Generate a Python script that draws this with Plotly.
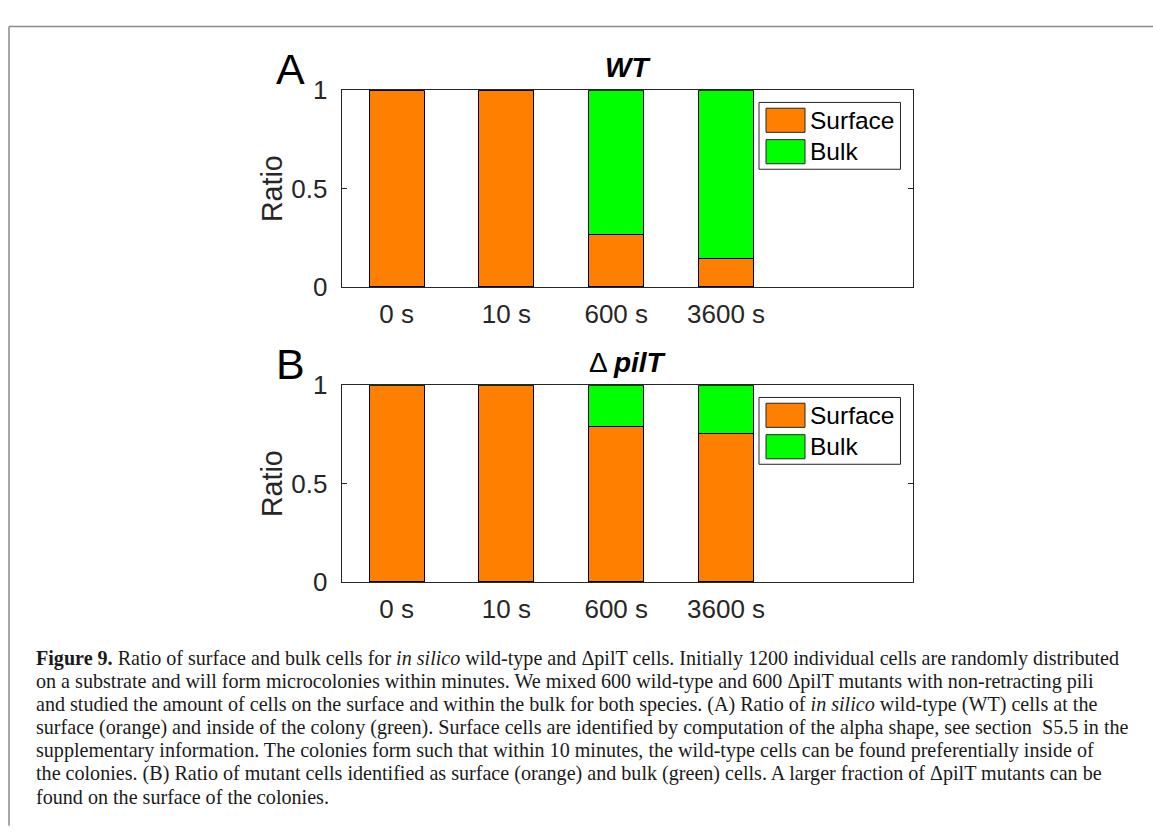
import plotly.graph_objects as go

# ---------------- data ----------------
categories = ["0 s", "10 s", "600 s", "3600 s"]
wt_surface = [1.0, 1.0, 0.265, 0.144]
wt_bulk = [0.0, 0.0, 0.735, 0.856]
pilt_surface = [0.997, 0.997, 0.788, 0.753]
pilt_bulk = [0.003, 0.003, 0.212, 0.247]
series_names = ["Surface", "Bulk"]
yticks = [0, 0.5, 1]
yticktext = ["0", "0.5", "1"]

caption_lines = [
    "<b>Figure 9.</b> Ratio of surface and bulk cells for <i>in silico</i> wild-type and \u0394pilT cells. Initially 1200 individual cells are randomly distributed",
    "on a substrate and will form microcolonies within minutes. We mixed 600 wild-type and 600 \u0394pilT mutants with non-retracting pili",
    "and studied the amount of cells on the surface and within the bulk for both species. (A) Ratio of <i>in silico</i> wild-type (WT) cells at the",
    "surface (orange) and inside of the colony (green). Surface cells are identified by computation of the alpha shape, see section  S5.5 in the",
    "supplementary information. The colonies form such that within 10 minutes, the wild-type cells can be found preferentially inside of",
    "the colonies. (B) Ratio of mutant cells identified as surface (orange) and bulk (green) cells. A larger fraction of \u0394pilT mutants can be",
    "found on the surface of the colonies.",
]

# ---------------- styling ----------------
W, H = 1153, 836
ORANGE = "#FF8000"
GREEN = "#00FF00"
AX = "#262626"
SANS = "Liberation Sans, Arial, Helvetica, sans-serif"
SERIF = "Liberation Serif, Times New Roman, serif"


def X(px):
    return px / W


def Y(py):
    return 1 - py / H


fig = go.Figure()

panels = [
    dict(x="x", y="y", surf=wt_surface, bulk=wt_bulk),
    dict(x="x2", y="y2", surf=pilt_surface, bulk=pilt_bulk),
]

for p in panels:
    for name, vals, col in zip(series_names, [p["surf"], p["bulk"]], [ORANGE, GREEN]):
        fig.add_trace(go.Bar(
            x=categories, y=vals, name=name, xaxis=p["x"], yaxis=p["y"],
            marker=dict(color=col, line=dict(color="black", width=1)),
            width=0.5, showlegend=False, hoverinfo="skip",
        ))

xl, xr = 341.7, 912.7
common_x = dict(
    type="category", range=[-0.5, 4.7], showline=True, linecolor=AX, linewidth=1,
    mirror=True, ticks="", showgrid=False, zeroline=False,
    tickfont=dict(family=SANS, size=26, color=AX), ticklabelstandoff=4,
    fixedrange=True,
)
common_y = dict(
    range=[0, 1], tickvals=yticks, ticktext=yticktext, showline=True, linecolor=AX,
    linewidth=1, mirror="allticks", ticks="inside", ticklen=5, tickcolor=AX,
    showgrid=False, zeroline=False, tickfont=dict(family=SANS, size=26, color=AX),
    ticklabelstandoff=8, fixedrange=True,
)

fig.update_layout(
    width=W, height=H, autosize=False,
    margin=dict(l=0, r=0, t=0, b=0),
    paper_bgcolor="white", plot_bgcolor="white",
    barmode="stack", bargap=0.5,
    xaxis=dict(domain=[X(xl), X(xr)], anchor="y", **common_x),
    yaxis=dict(domain=[Y(282), Y(78)], anchor="x", **common_y),
    xaxis2=dict(domain=[X(xl), X(xr)], anchor="y2", **common_x),
    yaxis2=dict(domain=[Y(588), Y(384)], anchor="x2", **common_y),
)

shapes = []
annos = []

# outer frame (left and top gray rules)
shapes.append(dict(type="line", xref="paper", yref="paper", x0=X(9), x1=X(9), y0=Y(12), y1=Y(H + 5),
                   line=dict(color="#8a8a8a", width=1.5)))
shapes.append(dict(type="line", xref="paper", yref="paper", x0=X(9), x1=X(W + 5), y0=Y(12), y1=Y(12),
                   line=dict(color="#8a8a8a", width=1.5)))

# panel letters, titles, y labels, legends
panel_meta = [
    dict(letter="A", title="<b><i>WT</i></b>", off=0, ly=180),
    dict(letter="B", title="\u0394 <b><i>pilT</i></b>", off=306, ly=486),
]
for m in panel_meta:
    o = m["off"]
    annos.append(dict(text=m["letter"], x=X(290), y=Y(56 + o), xref="paper", yref="paper",
                      showarrow=False, xanchor="center", yanchor="middle",
                      font=dict(family=SANS, size=43, color="black")))
    annos.append(dict(text=m["title"], x=X(628), y=Y(54 + o), xref="paper", yref="paper",
                      showarrow=False, xanchor="center", yanchor="middle",
                      font=dict(family=SANS, size=28, color="black")))
    annos.append(dict(text="Ratio", x=X(271.5), y=Y(m["ly"]), xref="paper", yref="paper",
                      showarrow=False, xanchor="center", yanchor="middle", textangle=-90,
                      font=dict(family=SANS, size=28.6, color=AX)))
    # legend box
    shapes.append(dict(type="rect", xref="paper", yref="paper",
                       x0=X(759), x1=X(900.5), y0=Y(90.7 + o), y1=Y(160 + o),
                       line=dict(color="#262626", width=1), fillcolor="white"))
    for i, (name, col) in enumerate(zip(series_names, [ORANGE, GREEN])):
        t = 96.7 + o + i * 32.6
        shapes.append(dict(type="rect", xref="paper", yref="paper",
                           x0=X(766), x1=X(805), y0=Y(t), y1=Y(t + 25),
                           line=dict(color="#262626", width=1), fillcolor=col))
        annos.append(dict(text=name, x=X(808), y=Y(t + 12.5), xref="paper", yref="paper",
                          showarrow=False, xanchor="left", yanchor="middle",
                          font=dict(family=SANS, size=24.5, color="black")))

# caption
for i, line in enumerate(caption_lines):
    annos.append(dict(text=line, x=X(34), y=Y(667 + 24 * i), xref="paper", yref="paper",
                      showarrow=False, xanchor="left", yanchor="middle", align="left",
                      font=dict(family=SERIF, size=20.1, color="#1a1a1a")))

fig.update_layout(shapes=shapes, annotations=annos)

fig.write_html("out.html", config={"displayModeBar": False},
               post_script="document.body.style.margin='0';document.body.style.overflow='hidden';")
